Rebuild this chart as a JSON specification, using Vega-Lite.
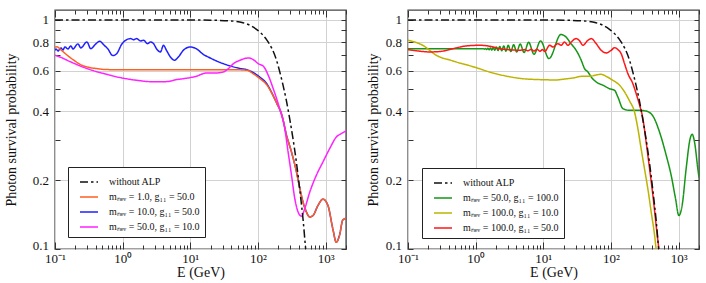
{
  "$schema": "https://vega.github.io/schema/vega-lite/v6.json",
  "padding": {"left": 3, "top": 8, "right": 9, "bottom": 5},
  "spacing": 17,
  "config": {
    "font": "Liberation Serif",
    "view": {"stroke": "#444", "strokeWidth": 1.4},
    "axis": {"labelFont": "Liberation Serif", "titleFont": "Liberation Serif", "labelFontSize": 13, "titleFontSize": 14, "titleFontWeight": "normal", "labelColor": "#111", "titleColor": "#111", "tickColor": "#333", "tickWidth": 1, "gridColor": "#d2d2d2", "gridWidth": 1, "domain": false},
    "legend": {"labelFont": "Liberation Serif", "labelFontSize": 10, "labelColor": "#111", "strokeColor": "#222", "fillColor": "#ffffff", "padding": 5, "rowPadding": 0, "symbolOffset": 6, "labelOffset": 10, "symbolType": "stroke", "symbolSize": 324, "symbolStrokeWidth": 1.6, "labelLimit": 0, "orient": "none"}
  },
  "datasets": {
    "left": [
      {"s": "mₙₑᵥ = 10.0, g₁₁ = 50.0", "E": 0.1, "P": 0.737},
      {"s": "mₙₑᵥ = 10.0, g₁₁ = 50.0", "E": 0.1035, "P": 0.747},
      {"s": "mₙₑᵥ = 10.0, g₁₁ = 50.0", "E": 0.1107, "P": 0.732},
      {"s": "mₙₑᵥ = 10.0, g₁₁ = 50.0", "E": 0.1226, "P": 0.755},
      {"s": "mₙₑᵥ = 10.0, g₁₁ = 50.0", "E": 0.1312, "P": 0.74},
      {"s": "mₙₑᵥ = 10.0, g₁₁ = 50.0", "E": 0.1403, "P": 0.762},
      {"s": "mₙₑᵥ = 10.0, g₁₁ = 50.0", "E": 0.1553, "P": 0.747},
      {"s": "mₙₑᵥ = 10.0, g₁₁ = 50.0", "E": 0.1718, "P": 0.77},
      {"s": "mₙₑᵥ = 10.0, g₁₁ = 50.0", "E": 0.184, "P": 0.747},
      {"s": "mₙₑᵥ = 10.0, g₁₁ = 50.0", "E": 0.218, "P": 0.786},
      {"s": "mₙₑᵥ = 10.0, g₁₁ = 50.0", "E": 0.241, "P": 0.755},
      {"s": "mₙₑᵥ = 10.0, g₁₁ = 50.0", "E": 0.296, "P": 0.801},
      {"s": "mₙₑᵥ = 10.0, g₁₁ = 50.0", "E": 0.338, "P": 0.749},
      {"s": "mₙₑᵥ = 10.0, g₁₁ = 50.0", "E": 0.401, "P": 0.786},
      {"s": "mₙₑᵥ = 10.0, g₁₁ = 50.0", "E": 0.459, "P": 0.807},
      {"s": "mₙₑᵥ = 10.0, g₁₁ = 50.0", "E": 0.526, "P": 0.778},
      {"s": "mₙₑᵥ = 10.0, g₁₁ = 50.0", "E": 0.601, "P": 0.749},
      {"s": "mₙₑᵥ = 10.0, g₁₁ = 50.0", "E": 0.713, "P": 0.699},
      {"s": "mₙₑᵥ = 10.0, g₁₁ = 50.0", "E": 0.816, "P": 0.712},
      {"s": "mₙₑᵥ = 10.0, g₁₁ = 50.0", "E": 0.967, "P": 0.783},
      {"s": "mₙₑᵥ = 10.0, g₁₁ = 50.0", "E": 1.107, "P": 0.815},
      {"s": "mₙₑᵥ = 10.0, g₁₁ = 50.0", "E": 1.311, "P": 0.829},
      {"s": "mₙₑᵥ = 10.0, g₁₁ = 50.0", "E": 1.45, "P": 0.82},
      {"s": "mₙₑᵥ = 10.0, g₁₁ = 50.0", "E": 1.61, "P": 0.829},
      {"s": "mₙₑᵥ = 10.0, g₁₁ = 50.0", "E": 1.84, "P": 0.81},
      {"s": "mₙₑᵥ = 10.0, g₁₁ = 50.0", "E": 2.04, "P": 0.815},
      {"s": "mₙₑᵥ = 10.0, g₁₁ = 50.0", "E": 2.33, "P": 0.788},
      {"s": "mₙₑᵥ = 10.0, g₁₁ = 50.0", "E": 2.58, "P": 0.801},
      {"s": "mₙₑᵥ = 10.0, g₁₁ = 50.0", "E": 2.86, "P": 0.788},
      {"s": "mₙₑᵥ = 10.0, g₁₁ = 50.0", "E": 3.16, "P": 0.749},
      {"s": "mₙₑᵥ = 10.0, g₁₁ = 50.0", "E": 3.62, "P": 0.725},
      {"s": "mₙₑᵥ = 10.0, g₁₁ = 50.0", "E": 4.01, "P": 0.775},
      {"s": "mₙₑᵥ = 10.0, g₁₁ = 50.0", "E": 4.44, "P": 0.737},
      {"s": "mₙₑᵥ = 10.0, g₁₁ = 50.0", "E": 5.08, "P": 0.689},
      {"s": "mₙₑᵥ = 10.0, g₁₁ = 50.0", "E": 5.82, "P": 0.667},
      {"s": "mₙₑᵥ = 10.0, g₁₁ = 50.0", "E": 6.66, "P": 0.689},
      {"s": "mₙₑᵥ = 10.0, g₁₁ = 50.0", "E": 7.89, "P": 0.737},
      {"s": "mₙₑᵥ = 10.0, g₁₁ = 50.0", "E": 10.0, "P": 0.762},
      {"s": "mₙₑᵥ = 10.0, g₁₁ = 50.0", "E": 12.25, "P": 0.749},
      {"s": "mₙₑᵥ = 10.0, g₁₁ = 50.0", "E": 15.5, "P": 0.708},
      {"s": "mₙₑᵥ = 10.0, g₁₁ = 50.0", "E": 19.7, "P": 0.682},
      {"s": "mₙₑᵥ = 10.0, g₁₁ = 50.0", "E": 27.6, "P": 0.652},
      {"s": "mₙₑᵥ = 10.0, g₁₁ = 50.0", "E": 38.7, "P": 0.63},
      {"s": "mₙₑᵥ = 10.0, g₁₁ = 50.0", "E": 54.3, "P": 0.614},
      {"s": "mₙₑᵥ = 10.0, g₁₁ = 50.0", "E": 68.9, "P": 0.606},
      {"s": "mₙₑᵥ = 10.0, g₁₁ = 50.0", "E": 84.3, "P": 0.59},
      {"s": "mₙₑᵥ = 10.0, g₁₁ = 50.0", "E": 107, "P": 0.562},
      {"s": "mₙₑᵥ = 10.0, g₁₁ = 50.0", "E": 136, "P": 0.525},
      {"s": "mₙₑᵥ = 10.0, g₁₁ = 50.0", "E": 161, "P": 0.479},
      {"s": "mₙₑᵥ = 10.0, g₁₁ = 50.0", "E": 190, "P": 0.432},
      {"s": "mₙₑᵥ = 10.0, g₁₁ = 50.0", "E": 225, "P": 0.385},
      {"s": "mₙₑᵥ = 10.0, g₁₁ = 50.0", "E": 264, "P": 0.314},
      {"s": "mₙₑᵥ = 10.0, g₁₁ = 50.0", "E": 313, "P": 0.265},
      {"s": "mₙₑᵥ = 10.0, g₁₁ = 50.0", "E": 371, "P": 0.217},
      {"s": "mₙₑᵥ = 10.0, g₁₁ = 50.0", "E": 415, "P": 0.184},
      {"s": "mₙₑᵥ = 10.0, g₁₁ = 50.0", "E": 464, "P": 0.16},
      {"s": "mₙₑᵥ = 10.0, g₁₁ = 50.0", "E": 520, "P": 0.145},
      {"s": "mₙₑᵥ = 10.0, g₁₁ = 50.0", "E": 582, "P": 0.138},
      {"s": "mₙₑᵥ = 10.0, g₁₁ = 50.0", "E": 651, "P": 0.14},
      {"s": "mₙₑᵥ = 10.0, g₁₁ = 50.0", "E": 771, "P": 0.155},
      {"s": "mₙₑᵥ = 10.0, g₁₁ = 50.0", "E": 913, "P": 0.165},
      {"s": "mₙₑᵥ = 10.0, g₁₁ = 50.0", "E": 1081, "P": 0.155},
      {"s": "mₙₑᵥ = 10.0, g₁₁ = 50.0", "E": 1281, "P": 0.122},
      {"s": "mₙₑᵥ = 10.0, g₁₁ = 50.0", "E": 1436, "P": 0.107},
      {"s": "mₙₑᵥ = 10.0, g₁₁ = 50.0", "E": 1607, "P": 0.115},
      {"s": "mₙₑᵥ = 10.0, g₁₁ = 50.0", "E": 1795, "P": 0.134},
      {"s": "mₙₑᵥ = 10.0, g₁₁ = 50.0", "E": 2000, "P": 0.136},
      {"s": "mₙₑᵥ = 1.0, g₁₁ = 50.0", "E": 0.1, "P": 0.762},
      {"s": "mₙₑᵥ = 1.0, g₁₁ = 50.0", "E": 0.107, "P": 0.763},
      {"s": "mₙₑᵥ = 1.0, g₁₁ = 50.0", "E": 0.121, "P": 0.742},
      {"s": "mₙₑᵥ = 1.0, g₁₁ = 50.0", "E": 0.152, "P": 0.701},
      {"s": "mₙₑᵥ = 1.0, g₁₁ = 50.0", "E": 0.19, "P": 0.667},
      {"s": "mₙₑᵥ = 1.0, g₁₁ = 50.0", "E": 0.239, "P": 0.638},
      {"s": "mₙₑᵥ = 1.0, g₁₁ = 50.0", "E": 0.299, "P": 0.623},
      {"s": "mₙₑᵥ = 1.0, g₁₁ = 50.0", "E": 0.419, "P": 0.613},
      {"s": "mₙₑᵥ = 1.0, g₁₁ = 50.0", "E": 0.588, "P": 0.607},
      {"s": "mₙₑᵥ = 1.0, g₁₁ = 50.0", "E": 1.31, "P": 0.606},
      {"s": "mₙₑᵥ = 1.0, g₁₁ = 50.0", "E": 14, "P": 0.606},
      {"s": "mₙₑᵥ = 1.0, g₁₁ = 50.0", "E": 45, "P": 0.606},
      {"s": "mₙₑᵥ = 1.0, g₁₁ = 50.0", "E": 68.9, "P": 0.603},
      {"s": "mₙₑᵥ = 1.0, g₁₁ = 50.0", "E": 84.3, "P": 0.583},
      {"s": "mₙₑᵥ = 1.0, g₁₁ = 50.0", "E": 107, "P": 0.554},
      {"s": "mₙₑᵥ = 1.0, g₁₁ = 50.0", "E": 136, "P": 0.519},
      {"s": "mₙₑᵥ = 1.0, g₁₁ = 50.0", "E": 161, "P": 0.477},
      {"s": "mₙₑᵥ = 1.0, g₁₁ = 50.0", "E": 190, "P": 0.432},
      {"s": "mₙₑᵥ = 1.0, g₁₁ = 50.0", "E": 225, "P": 0.385},
      {"s": "mₙₑᵥ = 1.0, g₁₁ = 50.0", "E": 264, "P": 0.314},
      {"s": "mₙₑᵥ = 1.0, g₁₁ = 50.0", "E": 313, "P": 0.265},
      {"s": "mₙₑᵥ = 1.0, g₁₁ = 50.0", "E": 371, "P": 0.217},
      {"s": "mₙₑᵥ = 1.0, g₁₁ = 50.0", "E": 415, "P": 0.184},
      {"s": "mₙₑᵥ = 1.0, g₁₁ = 50.0", "E": 464, "P": 0.16},
      {"s": "mₙₑᵥ = 1.0, g₁₁ = 50.0", "E": 520, "P": 0.145},
      {"s": "mₙₑᵥ = 1.0, g₁₁ = 50.0", "E": 582, "P": 0.138},
      {"s": "mₙₑᵥ = 1.0, g₁₁ = 50.0", "E": 651, "P": 0.14},
      {"s": "mₙₑᵥ = 1.0, g₁₁ = 50.0", "E": 771, "P": 0.155},
      {"s": "mₙₑᵥ = 1.0, g₁₁ = 50.0", "E": 913, "P": 0.165},
      {"s": "mₙₑᵥ = 1.0, g₁₁ = 50.0", "E": 1081, "P": 0.155},
      {"s": "mₙₑᵥ = 1.0, g₁₁ = 50.0", "E": 1281, "P": 0.122},
      {"s": "mₙₑᵥ = 1.0, g₁₁ = 50.0", "E": 1436, "P": 0.107},
      {"s": "mₙₑᵥ = 1.0, g₁₁ = 50.0", "E": 1607, "P": 0.115},
      {"s": "mₙₑᵥ = 1.0, g₁₁ = 50.0", "E": 1795, "P": 0.134},
      {"s": "mₙₑᵥ = 1.0, g₁₁ = 50.0", "E": 2000, "P": 0.136},
      {"s": "mₙₑᵥ = 50.0, g₁₁ = 10.0", "E": 0.1, "P": 0.701},
      {"s": "mₙₑᵥ = 50.0, g₁₁ = 10.0", "E": 0.1226, "P": 0.686},
      {"s": "mₙₑᵥ = 50.0, g₁₁ = 10.0", "E": 0.17, "P": 0.656},
      {"s": "mₙₑᵥ = 50.0, g₁₁ = 10.0", "E": 0.299, "P": 0.613},
      {"s": "mₙₑᵥ = 50.0, g₁₁ = 10.0", "E": 0.526, "P": 0.583},
      {"s": "mₙₑᵥ = 50.0, g₁₁ = 10.0", "E": 0.925, "P": 0.56},
      {"s": "mₙₑᵥ = 50.0, g₁₁ = 10.0", "E": 1.62, "P": 0.545},
      {"s": "mₙₑᵥ = 50.0, g₁₁ = 10.0", "E": 2.86, "P": 0.537},
      {"s": "mₙₑᵥ = 50.0, g₁₁ = 10.0", "E": 4.48, "P": 0.538},
      {"s": "mₙₑᵥ = 50.0, g₁₁ = 10.0", "E": 6.29, "P": 0.549},
      {"s": "mₙₑᵥ = 50.0, g₁₁ = 10.0", "E": 7.89, "P": 0.554},
      {"s": "mₙₑᵥ = 50.0, g₁₁ = 10.0", "E": 9.9, "P": 0.56},
      {"s": "mₙₑᵥ = 50.0, g₁₁ = 10.0", "E": 12.4, "P": 0.568},
      {"s": "mₙₑᵥ = 50.0, g₁₁ = 10.0", "E": 15.5, "P": 0.583},
      {"s": "mₙₑᵥ = 50.0, g₁₁ = 10.0", "E": 17.6, "P": 0.587},
      {"s": "mₙₑᵥ = 50.0, g₁₁ = 10.0", "E": 24.7, "P": 0.587},
      {"s": "mₙₑᵥ = 50.0, g₁₁ = 10.0", "E": 30.9, "P": 0.593},
      {"s": "mₙₑᵥ = 50.0, g₁₁ = 10.0", "E": 36.6, "P": 0.613},
      {"s": "mₙₑᵥ = 50.0, g₁₁ = 10.0", "E": 43.4, "P": 0.644},
      {"s": "mₙₑᵥ = 50.0, g₁₁ = 10.0", "E": 54.3, "P": 0.667},
      {"s": "mₙₑᵥ = 50.0, g₁₁ = 10.0", "E": 72, "P": 0.682},
      {"s": "mₙₑᵥ = 50.0, g₁₁ = 10.0", "E": 85.3, "P": 0.671},
      {"s": "mₙₑᵥ = 50.0, g₁₁ = 10.0", "E": 101, "P": 0.644},
      {"s": "mₙₑᵥ = 50.0, g₁₁ = 10.0", "E": 120, "P": 0.628},
      {"s": "mₙₑᵥ = 50.0, g₁₁ = 10.0", "E": 142, "P": 0.573},
      {"s": "mₙₑᵥ = 50.0, g₁₁ = 10.0", "E": 168, "P": 0.501},
      {"s": "mₙₑᵥ = 50.0, g₁₁ = 10.0", "E": 199, "P": 0.431},
      {"s": "mₙₑᵥ = 50.0, g₁₁ = 10.0", "E": 223, "P": 0.384},
      {"s": "mₙₑᵥ = 50.0, g₁₁ = 10.0", "E": 244, "P": 0.347},
      {"s": "mₙₑᵥ = 50.0, g₁₁ = 10.0", "E": 279, "P": 0.265},
      {"s": "mₙₑᵥ = 50.0, g₁₁ = 10.0", "E": 313, "P": 0.21},
      {"s": "mₙₑᵥ = 50.0, g₁₁ = 10.0", "E": 350, "P": 0.166},
      {"s": "mₙₑᵥ = 50.0, g₁₁ = 10.0", "E": 392, "P": 0.145},
      {"s": "mₙₑᵥ = 50.0, g₁₁ = 10.0", "E": 440, "P": 0.139},
      {"s": "mₙₑᵥ = 50.0, g₁₁ = 10.0", "E": 491, "P": 0.15},
      {"s": "mₙₑᵥ = 50.0, g₁₁ = 10.0", "E": 582, "P": 0.177},
      {"s": "mₙₑᵥ = 50.0, g₁₁ = 10.0", "E": 730, "P": 0.21},
      {"s": "mₙₑᵥ = 50.0, g₁₁ = 10.0", "E": 913, "P": 0.24},
      {"s": "mₙₑᵥ = 50.0, g₁₁ = 10.0", "E": 1145, "P": 0.274},
      {"s": "mₙₑᵥ = 50.0, g₁₁ = 10.0", "E": 1436, "P": 0.308},
      {"s": "mₙₑᵥ = 50.0, g₁₁ = 10.0", "E": 1702, "P": 0.319},
      {"s": "mₙₑᵥ = 50.0, g₁₁ = 10.0", "E": 2000, "P": 0.327},
      {"s": "without ALP", "E": 0.1, "P": 1.0},
      {"s": "without ALP", "E": 1, "P": 1.0},
      {"s": "without ALP", "E": 10, "P": 0.999},
      {"s": "without ALP", "E": 20, "P": 0.997},
      {"s": "without ALP", "E": 40, "P": 0.99},
      {"s": "without ALP", "E": 60, "P": 0.972},
      {"s": "without ALP", "E": 76, "P": 0.948},
      {"s": "without ALP", "E": 95, "P": 0.91},
      {"s": "without ALP", "E": 107, "P": 0.885},
      {"s": "without ALP", "E": 134, "P": 0.82},
      {"s": "without ALP", "E": 159, "P": 0.755},
      {"s": "without ALP", "E": 188, "P": 0.667},
      {"s": "without ALP", "E": 210, "P": 0.593},
      {"s": "without ALP", "E": 235, "P": 0.518},
      {"s": "without ALP", "E": 263, "P": 0.444},
      {"s": "without ALP", "E": 295, "P": 0.369},
      {"s": "without ALP", "E": 331, "P": 0.3},
      {"s": "without ALP", "E": 372, "P": 0.236},
      {"s": "without ALP", "E": 417, "P": 0.179},
      {"s": "without ALP", "E": 468, "P": 0.131},
      {"s": "without ALP", "E": 507, "P": 0.1},
      {"s": "without ALP", "E": 540, "P": 0.085}
    ],
    "right": [
      {"s": "mₙₑᵥ = 50.0, g₁₁ = 100.0", "E": 0.1, "P": 0.749},
      {"s": "mₙₑᵥ = 50.0, g₁₁ = 100.0", "E": 0.329, "P": 0.749},
      {"s": "mₙₑᵥ = 50.0, g₁₁ = 100.0", "E": 0.912, "P": 0.748},
      {"s": "mₙₑᵥ = 50.0, g₁₁ = 100.0", "E": 1.3, "P": 0.749},
      {"s": "mₙₑᵥ = 50.0, g₁₁ = 100.0", "E": 1.348, "P": 0.745},
      {"s": "mₙₑᵥ = 50.0, g₁₁ = 100.0", "E": 1.4, "P": 0.75},
      {"s": "mₙₑᵥ = 50.0, g₁₁ = 100.0", "E": 1.456, "P": 0.743},
      {"s": "mₙₑᵥ = 50.0, g₁₁ = 100.0", "E": 1.517, "P": 0.752},
      {"s": "mₙₑᵥ = 50.0, g₁₁ = 100.0", "E": 1.583, "P": 0.741},
      {"s": "mₙₑᵥ = 50.0, g₁₁ = 100.0", "E": 1.655, "P": 0.755},
      {"s": "mₙₑᵥ = 50.0, g₁₁ = 100.0", "E": 1.733, "P": 0.739},
      {"s": "mₙₑᵥ = 50.0, g₁₁ = 100.0", "E": 1.82, "P": 0.758},
      {"s": "mₙₑᵥ = 50.0, g₁₁ = 100.0", "E": 1.916, "P": 0.737},
      {"s": "mₙₑᵥ = 50.0, g₁₁ = 100.0", "E": 2.02, "P": 0.762},
      {"s": "mₙₑᵥ = 50.0, g₁₁ = 100.0", "E": 2.14, "P": 0.735},
      {"s": "mₙₑᵥ = 50.0, g₁₁ = 100.0", "E": 2.275, "P": 0.766},
      {"s": "mₙₑᵥ = 50.0, g₁₁ = 100.0", "E": 2.43, "P": 0.733},
      {"s": "mₙₑᵥ = 50.0, g₁₁ = 100.0", "E": 2.6, "P": 0.77},
      {"s": "mₙₑᵥ = 50.0, g₁₁ = 100.0", "E": 2.8, "P": 0.73},
      {"s": "mₙₑᵥ = 50.0, g₁₁ = 100.0", "E": 3.03, "P": 0.775},
      {"s": "mₙₑᵥ = 50.0, g₁₁ = 100.0", "E": 3.31, "P": 0.728},
      {"s": "mₙₑᵥ = 50.0, g₁₁ = 100.0", "E": 3.64, "P": 0.78},
      {"s": "mₙₑᵥ = 50.0, g₁₁ = 100.0", "E": 4.04, "P": 0.725},
      {"s": "mₙₑᵥ = 50.0, g₁₁ = 100.0", "E": 4.55, "P": 0.785},
      {"s": "mₙₑᵥ = 50.0, g₁₁ = 100.0", "E": 5.2, "P": 0.721},
      {"s": "mₙₑᵥ = 50.0, g₁₁ = 100.0", "E": 6.07, "P": 0.799},
      {"s": "mₙₑᵥ = 50.0, g₁₁ = 100.0", "E": 7.28, "P": 0.708},
      {"s": "mₙₑᵥ = 50.0, g₁₁ = 100.0", "E": 9.1, "P": 0.81},
      {"s": "mₙₑᵥ = 50.0, g₁₁ = 100.0", "E": 12.13, "P": 0.678},
      {"s": "mₙₑᵥ = 50.0, g₁₁ = 100.0", "E": 18.2, "P": 0.864},
      {"s": "mₙₑᵥ = 50.0, g₁₁ = 100.0", "E": 21.6, "P": 0.843},
      {"s": "mₙₑᵥ = 50.0, g₁₁ = 100.0", "E": 25.6, "P": 0.788},
      {"s": "mₙₑᵥ = 50.0, g₁₁ = 100.0", "E": 30.6, "P": 0.737},
      {"s": "mₙₑᵥ = 50.0, g₁₁ = 100.0", "E": 36.3, "P": 0.667},
      {"s": "mₙₑᵥ = 50.0, g₁₁ = 100.0", "E": 40.7, "P": 0.613},
      {"s": "mₙₑᵥ = 50.0, g₁₁ = 100.0", "E": 45.6, "P": 0.593},
      {"s": "mₙₑᵥ = 50.0, g₁₁ = 100.0", "E": 51.0, "P": 0.564},
      {"s": "mₙₑᵥ = 50.0, g₁₁ = 100.0", "E": 60.4, "P": 0.536},
      {"s": "mₙₑᵥ = 50.0, g₁₁ = 100.0", "E": 75.9, "P": 0.519},
      {"s": "mₙₑᵥ = 50.0, g₁₁ = 100.0", "E": 95.3, "P": 0.501},
      {"s": "mₙₑᵥ = 50.0, g₁₁ = 100.0", "E": 113, "P": 0.493},
      {"s": "mₙₑᵥ = 50.0, g₁₁ = 100.0", "E": 126.4, "P": 0.461},
      {"s": "mₙₑᵥ = 50.0, g₁₁ = 100.0", "E": 150, "P": 0.41},
      {"s": "mₙₑᵥ = 50.0, g₁₁ = 100.0", "E": 188, "P": 0.403},
      {"s": "mₙₑᵥ = 50.0, g₁₁ = 100.0", "E": 264, "P": 0.403},
      {"s": "mₙₑᵥ = 50.0, g₁₁ = 100.0", "E": 331, "P": 0.4},
      {"s": "mₙₑᵥ = 50.0, g₁₁ = 100.0", "E": 416, "P": 0.381},
      {"s": "mₙₑᵥ = 50.0, g₁₁ = 100.0", "E": 522, "P": 0.324},
      {"s": "mₙₑᵥ = 50.0, g₁₁ = 100.0", "E": 654, "P": 0.257},
      {"s": "mₙₑᵥ = 50.0, g₁₁ = 100.0", "E": 775, "P": 0.21},
      {"s": "mₙₑᵥ = 50.0, g₁₁ = 100.0", "E": 900, "P": 0.166},
      {"s": "mₙₑᵥ = 50.0, g₁₁ = 100.0", "E": 1007, "P": 0.14},
      {"s": "mₙₑᵥ = 50.0, g₁₁ = 100.0", "E": 1127, "P": 0.155},
      {"s": "mₙₑᵥ = 50.0, g₁₁ = 100.0", "E": 1291, "P": 0.224},
      {"s": "mₙₑᵥ = 50.0, g₁₁ = 100.0", "E": 1479, "P": 0.303},
      {"s": "mₙₑᵥ = 50.0, g₁₁ = 100.0", "E": 1584, "P": 0.317},
      {"s": "mₙₑᵥ = 50.0, g₁₁ = 100.0", "E": 1718, "P": 0.293},
      {"s": "mₙₑᵥ = 50.0, g₁₁ = 100.0", "E": 1922, "P": 0.224},
      {"s": "mₙₑᵥ = 50.0, g₁₁ = 100.0", "E": 2000, "P": 0.205},
      {"s": "mₙₑᵥ = 100.0, g₁₁ = 10.0", "E": 0.1, "P": 0.815},
      {"s": "mₙₑᵥ = 100.0, g₁₁ = 10.0", "E": 0.165, "P": 0.775},
      {"s": "mₙₑᵥ = 100.0, g₁₁ = 10.0", "E": 0.262, "P": 0.701},
      {"s": "mₙₑᵥ = 100.0, g₁₁ = 10.0", "E": 0.462, "P": 0.662},
      {"s": "mₙₑᵥ = 100.0, g₁₁ = 10.0", "E": 1.0, "P": 0.62},
      {"s": "mₙₑᵥ = 100.0, g₁₁ = 10.0", "E": 1.59, "P": 0.593},
      {"s": "mₙₑᵥ = 100.0, g₁₁ = 10.0", "E": 2.8, "P": 0.569},
      {"s": "mₙₑᵥ = 100.0, g₁₁ = 10.0", "E": 4.94, "P": 0.554},
      {"s": "mₙₑᵥ = 100.0, g₁₁ = 10.0", "E": 8.7, "P": 0.549},
      {"s": "mₙₑᵥ = 100.0, g₁₁ = 10.0", "E": 15.4, "P": 0.547},
      {"s": "mₙₑᵥ = 100.0, g₁₁ = 10.0", "E": 19.5, "P": 0.551},
      {"s": "mₙₑᵥ = 100.0, g₁₁ = 10.0", "E": 27.4, "P": 0.558},
      {"s": "mₙₑᵥ = 100.0, g₁₁ = 10.0", "E": 38.5, "P": 0.568},
      {"s": "mₙₑᵥ = 100.0, g₁₁ = 10.0", "E": 48.3, "P": 0.568},
      {"s": "mₙₑᵥ = 100.0, g₁₁ = 10.0", "E": 60.4, "P": 0.575},
      {"s": "mₙₑᵥ = 100.0, g₁₁ = 10.0", "E": 71.6, "P": 0.579},
      {"s": "mₙₑᵥ = 100.0, g₁₁ = 10.0", "E": 84.9, "P": 0.567},
      {"s": "mₙₑᵥ = 100.0, g₁₁ = 10.0", "E": 106.7, "P": 0.545},
      {"s": "mₙₑᵥ = 100.0, g₁₁ = 10.0", "E": 134, "P": 0.519},
      {"s": "mₙₑᵥ = 100.0, g₁₁ = 10.0", "E": 158.8, "P": 0.485},
      {"s": "mₙₑᵥ = 100.0, g₁₁ = 10.0", "E": 188, "P": 0.443},
      {"s": "mₙₑᵥ = 100.0, g₁₁ = 10.0", "E": 223, "P": 0.396},
      {"s": "mₙₑᵥ = 100.0, g₁₁ = 10.0", "E": 250, "P": 0.335},
      {"s": "mₙₑᵥ = 100.0, g₁₁ = 10.0", "E": 279, "P": 0.274},
      {"s": "mₙₑᵥ = 100.0, g₁₁ = 10.0", "E": 313, "P": 0.224},
      {"s": "mₙₑᵥ = 100.0, g₁₁ = 10.0", "E": 351, "P": 0.183},
      {"s": "mₙₑᵥ = 100.0, g₁₁ = 10.0", "E": 393, "P": 0.145},
      {"s": "mₙₑᵥ = 100.0, g₁₁ = 10.0", "E": 441, "P": 0.115},
      {"s": "mₙₑᵥ = 100.0, g₁₁ = 10.0", "E": 465, "P": 0.1},
      {"s": "mₙₑᵥ = 100.0, g₁₁ = 10.0", "E": 490, "P": 0.09},
      {"s": "mₙₑᵥ = 100.0, g₁₁ = 50.0", "E": 0.1, "P": 0.742},
      {"s": "mₙₑᵥ = 100.0, g₁₁ = 50.0", "E": 0.1406, "P": 0.732},
      {"s": "mₙₑᵥ = 100.0, g₁₁ = 50.0", "E": 0.209, "P": 0.725},
      {"s": "mₙₑᵥ = 100.0, g₁₁ = 50.0", "E": 0.307, "P": 0.729},
      {"s": "mₙₑᵥ = 100.0, g₁₁ = 50.0", "E": 0.462, "P": 0.749},
      {"s": "mₙₑᵥ = 100.0, g₁₁ = 50.0", "E": 0.719, "P": 0.77},
      {"s": "mₙₑᵥ = 100.0, g₁₁ = 50.0", "E": 1.146, "P": 0.775},
      {"s": "mₙₑᵥ = 100.0, g₁₁ = 50.0", "E": 1.68, "P": 0.766},
      {"s": "mₙₑᵥ = 100.0, g₁₁ = 50.0", "E": 2.26, "P": 0.749},
      {"s": "mₙₑᵥ = 100.0, g₁₁ = 50.0", "E": 3.21, "P": 0.741},
      {"s": "mₙₑᵥ = 100.0, g₁₁ = 50.0", "E": 4.47, "P": 0.737},
      {"s": "mₙₑᵥ = 100.0, g₁₁ = 50.0", "E": 5.3, "P": 0.742},
      {"s": "mₙₑᵥ = 100.0, g₁₁ = 50.0", "E": 5.9, "P": 0.733},
      {"s": "mₙₑᵥ = 100.0, g₁₁ = 50.0", "E": 6.6, "P": 0.744},
      {"s": "mₙₑᵥ = 100.0, g₁₁ = 50.0", "E": 7.3, "P": 0.732},
      {"s": "mₙₑᵥ = 100.0, g₁₁ = 50.0", "E": 8.1, "P": 0.744},
      {"s": "mₙₑᵥ = 100.0, g₁₁ = 50.0", "E": 8.9, "P": 0.73},
      {"s": "mₙₑᵥ = 100.0, g₁₁ = 50.0", "E": 9.7, "P": 0.742},
      {"s": "mₙₑᵥ = 100.0, g₁₁ = 50.0", "E": 10.5, "P": 0.728},
      {"s": "mₙₑᵥ = 100.0, g₁₁ = 50.0", "E": 12.4, "P": 0.775},
      {"s": "mₙₑᵥ = 100.0, g₁₁ = 50.0", "E": 13.9, "P": 0.762},
      {"s": "mₙₑᵥ = 100.0, g₁₁ = 50.0", "E": 16.4, "P": 0.788},
      {"s": "mₙₑᵥ = 100.0, g₁₁ = 50.0", "E": 18.4, "P": 0.775},
      {"s": "mₙₑᵥ = 100.0, g₁₁ = 50.0", "E": 20.6, "P": 0.801},
      {"s": "mₙₑᵥ = 100.0, g₁₁ = 50.0", "E": 23.1, "P": 0.775},
      {"s": "mₙₑᵥ = 100.0, g₁₁ = 50.0", "E": 25.8, "P": 0.801},
      {"s": "mₙₑᵥ = 100.0, g₁₁ = 50.0", "E": 30.6, "P": 0.829},
      {"s": "mₙₑᵥ = 100.0, g₁₁ = 50.0", "E": 34.4, "P": 0.81},
      {"s": "mₙₑᵥ = 100.0, g₁₁ = 50.0", "E": 38.5, "P": 0.775},
      {"s": "mₙₑᵥ = 100.0, g₁₁ = 50.0", "E": 45.6, "P": 0.815},
      {"s": "mₙₑᵥ = 100.0, g₁₁ = 50.0", "E": 51.0, "P": 0.829},
      {"s": "mₙₑᵥ = 100.0, g₁₁ = 50.0", "E": 60.4, "P": 0.788},
      {"s": "mₙₑᵥ = 100.0, g₁₁ = 50.0", "E": 71.6, "P": 0.737},
      {"s": "mₙₑᵥ = 100.0, g₁₁ = 50.0", "E": 84.9, "P": 0.718},
      {"s": "mₙₑᵥ = 100.0, g₁₁ = 50.0", "E": 100.7, "P": 0.737},
      {"s": "mₙₑᵥ = 100.0, g₁₁ = 50.0", "E": 113, "P": 0.757},
      {"s": "mₙₑᵥ = 100.0, g₁₁ = 50.0", "E": 126.4, "P": 0.742},
      {"s": "mₙₑᵥ = 100.0, g₁₁ = 50.0", "E": 141.6, "P": 0.712},
      {"s": "mₙₑᵥ = 100.0, g₁₁ = 50.0", "E": 158.8, "P": 0.644},
      {"s": "mₙₑᵥ = 100.0, g₁₁ = 50.0", "E": 177.8, "P": 0.583},
      {"s": "mₙₑᵥ = 100.0, g₁₁ = 50.0", "E": 210.6, "P": 0.527},
      {"s": "mₙₑᵥ = 100.0, g₁₁ = 50.0", "E": 235.6, "P": 0.477},
      {"s": "mₙₑᵥ = 100.0, g₁₁ = 50.0", "E": 261, "P": 0.431},
      {"s": "mₙₑᵥ = 100.0, g₁₁ = 50.0", "E": 296, "P": 0.371},
      {"s": "mₙₑᵥ = 100.0, g₁₁ = 50.0", "E": 331, "P": 0.293},
      {"s": "mₙₑᵥ = 100.0, g₁₁ = 50.0", "E": 372, "P": 0.224},
      {"s": "mₙₑᵥ = 100.0, g₁₁ = 50.0", "E": 416, "P": 0.172},
      {"s": "mₙₑᵥ = 100.0, g₁₁ = 50.0", "E": 465, "P": 0.127},
      {"s": "mₙₑᵥ = 100.0, g₁₁ = 50.0", "E": 510, "P": 0.1},
      {"s": "mₙₑᵥ = 100.0, g₁₁ = 50.0", "E": 540, "P": 0.085},
      {"s": "without ALP", "E": 0.1, "P": 1.0},
      {"s": "without ALP", "E": 1, "P": 1.0},
      {"s": "without ALP", "E": 10, "P": 0.999},
      {"s": "without ALP", "E": 20, "P": 0.997},
      {"s": "without ALP", "E": 40, "P": 0.99},
      {"s": "without ALP", "E": 60, "P": 0.972},
      {"s": "without ALP", "E": 76, "P": 0.948},
      {"s": "without ALP", "E": 95, "P": 0.91},
      {"s": "without ALP", "E": 107, "P": 0.885},
      {"s": "without ALP", "E": 134, "P": 0.82},
      {"s": "without ALP", "E": 159, "P": 0.755},
      {"s": "without ALP", "E": 188, "P": 0.667},
      {"s": "without ALP", "E": 210, "P": 0.593},
      {"s": "without ALP", "E": 235, "P": 0.518},
      {"s": "without ALP", "E": 263, "P": 0.444},
      {"s": "without ALP", "E": 295, "P": 0.369},
      {"s": "without ALP", "E": 331, "P": 0.3},
      {"s": "without ALP", "E": 372, "P": 0.236},
      {"s": "without ALP", "E": 417, "P": 0.179},
      {"s": "without ALP", "E": 468, "P": 0.131},
      {"s": "without ALP", "E": 507, "P": 0.1},
      {"s": "without ALP", "E": 540, "P": 0.085}
    ]
  },
  "hconcat": [
    {
      "width": 291,
      "height": 239,
      "data": {"name": "left"},
      "layer": [
        {
          "transform": [{"filter": "datum.s !== 'without ALP'"}],
          "mark": {"type": "line", "clip": true, "strokeWidth": 1.5, "interpolate": "monotone"},
          "encoding": {
            "x": {"field": "E", "type": "quantitative", "title": "E (GeV)",
              "scale": {"type": "log", "domain": [0.1, 2000], "nice": false},
              "axis": {"orient": "bottom", "values": [0.1,0.2,0.3,0.4,0.5,0.6,0.7,0.8,0.9,1,2,3,4,5,6,7,8,9,10,20,30,40,50,60,70,80,90,100,200,300,400,500,600,700,800,900,1000,2000],
                "labelExpr": "abs(log(datum.value)/LN10 - round(log(datum.value)/LN10)) < 0.001 ? '10' + ['⁻¹','⁰','¹','²','³'][round(log(datum.value)/LN10) + 1] : ''",
                "labelFlush": false, "labelOverlap": false, "labelBound": false,
                "tickSize": {"condition": {"test": "abs(log(datum.value)/LN10 - round(log(datum.value)/LN10)) < 0.001", "value": -7}, "value": -4},
                "labelPadding": 10, "grid": true,
                "gridOpacity": {"condition": {"test": "abs(log(datum.value)/LN10 - round(log(datum.value)/LN10)) < 0.001", "value": 1}, "value": 0},
                "titleY": 27.5, "titleBaseline": "alphabetic"}},
            "y": {"field": "P", "type": "quantitative", "title": "Photon survival probability",
              "scale": {"type": "log", "domain": [0.1, 1.105], "nice": false},
              "axis": {"orient": "left", "values": [0.1,0.2,0.3,0.4,0.5,0.6,0.7,0.8,0.9,1],
                "labelExpr": "indexof([1,2,4,6,8,10], round(datum.value*10)) >= 0 ? (round(datum.value*10) == 10 ? '1' : format(datum.value, '.1f')) : ''",
                "labelOverlap": false, "labelFlush": false, "tickSize": -5, "labelPadding": 11.5, "grid": true,
                "labelOffset": {"condition": {"test": "datum.value < 0.15", "value": -4}, "value": 0},
                "gridOpacity": {"condition": {"test": "indexof([1,2,4,6,8,10], round(datum.value*10)) >= 0", "value": 1}, "value": 0},
                "titleX": -40, "titleBaseline": "alphabetic"}},
            "color": {"field": "s", "type": "nominal", "title": null,
              "scale": {"domain": ["without ALP", "mₙₑᵥ = 1.0, g₁₁ = 50.0", "mₙₑᵥ = 10.0, g₁₁ = 50.0", "mₙₑᵥ = 50.0, g₁₁ = 10.0"], "range": ["#111111", "#ff6020", "#2020ff", "#ff22ff"]},
              "legend": {"legendX": 13, "legendY": 157, "labelExpr": "datum.label + '    '"}},
            "strokeDash": {"field": "s", "type": "nominal", "title": null,
              "scale": {"domain": ["without ALP", "mₙₑᵥ = 1.0, g₁₁ = 50.0", "mₙₑᵥ = 10.0, g₁₁ = 50.0", "mₙₑᵥ = 50.0, g₁₁ = 10.0"], "range": [[8,3,2.5,3],[1,0],[1,0],[1,0]]},
              "legend": {"legendX": 13, "legendY": 157, "labelExpr": "datum.label + '    '"}}
          }
        },
        {
          "transform": [{"filter": "datum.s === 'without ALP'"}],
          "mark": {"type": "line", "clip": true, "strokeWidth": 1.5, "interpolate": "monotone"},
          "encoding": {
            "x": {"field": "E", "type": "quantitative",
              "scale": {"type": "log", "domain": [0.1, 2000], "nice": false},
              "axis": {"orient": "top", "title": null, "labels": false, "grid": false, "values": [0.1,0.2,0.3,0.4,0.5,0.6,0.7,0.8,0.9,1,2,3,4,5,6,7,8,9,10,20,30,40,50,60,70,80,90,100,200,300,400,500,600,700,800,900,1000,2000],
                "tickSize": {"condition": {"test": "abs(log(datum.value)/LN10 - round(log(datum.value)/LN10)) < 0.001", "value": -7}, "value": -4}}},
            "y": {"field": "P", "type": "quantitative",
              "scale": {"type": "log", "domain": [0.1, 1.105], "nice": false},
              "axis": {"orient": "right", "title": null, "labels": false, "grid": false, "values": [0.1,0.2,0.3,0.4,0.5,0.6,0.7,0.8,0.9,1], "tickSize": -5}},
            "color": {"field": "s", "type": "nominal", "title": null,
              "scale": {"domain": ["without ALP", "mₙₑᵥ = 1.0, g₁₁ = 50.0", "mₙₑᵥ = 10.0, g₁₁ = 50.0", "mₙₑᵥ = 50.0, g₁₁ = 10.0"], "range": ["#111111", "#ff6020", "#2020ff", "#ff22ff"]},
              "legend": {"legendX": 13, "legendY": 157, "labelExpr": "datum.label + '    '"}},
            "strokeDash": {"field": "s", "type": "nominal", "title": null,
              "scale": {"domain": ["without ALP", "mₙₑᵥ = 1.0, g₁₁ = 50.0", "mₙₑᵥ = 10.0, g₁₁ = 50.0", "mₙₑᵥ = 50.0, g₁₁ = 10.0"], "range": [[8,3,2.5,3],[1,0],[1,0],[1,0]]},
              "legend": {"legendX": 13, "legendY": 157, "labelExpr": "datum.label + '    '"}}
          }
        }
      ],
      "resolve": {"axis": {"x": "independent", "y": "independent"}}
    },
    {
      "width": 291,
      "height": 239,
      "data": {"name": "right"},
      "layer": [
        {
          "transform": [{"filter": "datum.s !== 'without ALP'"}],
          "mark": {"type": "line", "clip": true, "strokeWidth": 1.5, "interpolate": "monotone"},
          "encoding": {
            "x": {"field": "E", "type": "quantitative", "title": "E (GeV)",
              "scale": {"type": "log", "domain": [0.1, 2000], "nice": false},
              "axis": {"orient": "bottom", "values": [0.1,0.2,0.3,0.4,0.5,0.6,0.7,0.8,0.9,1,2,3,4,5,6,7,8,9,10,20,30,40,50,60,70,80,90,100,200,300,400,500,600,700,800,900,1000,2000],
                "labelExpr": "abs(log(datum.value)/LN10 - round(log(datum.value)/LN10)) < 0.001 ? '10' + ['⁻¹','⁰','¹','²','³'][round(log(datum.value)/LN10) + 1] : ''",
                "labelFlush": false, "labelOverlap": false, "labelBound": false,
                "tickSize": {"condition": {"test": "abs(log(datum.value)/LN10 - round(log(datum.value)/LN10)) < 0.001", "value": -7}, "value": -4},
                "labelPadding": 10, "grid": true,
                "gridOpacity": {"condition": {"test": "abs(log(datum.value)/LN10 - round(log(datum.value)/LN10)) < 0.001", "value": 1}, "value": 0},
                "titleY": 27.5, "titleBaseline": "alphabetic"}},
            "y": {"field": "P", "type": "quantitative", "title": "Photon survival probability",
              "scale": {"type": "log", "domain": [0.1, 1.105], "nice": false},
              "axis": {"orient": "left", "values": [0.1,0.2,0.3,0.4,0.5,0.6,0.7,0.8,0.9,1],
                "labelExpr": "indexof([1,2,4,6,8,10], round(datum.value*10)) >= 0 ? (round(datum.value*10) == 10 ? '1' : format(datum.value, '.1f')) : ''",
                "labelOverlap": false, "labelFlush": false, "tickSize": -5, "labelPadding": 11.5, "grid": true,
                "labelOffset": {"condition": {"test": "datum.value < 0.15", "value": -4}, "value": 0},
                "gridOpacity": {"condition": {"test": "indexof([1,2,4,6,8,10], round(datum.value*10)) >= 0", "value": 1}, "value": 0},
                "titleX": -31, "titleBaseline": "alphabetic"}},
            "color": {"field": "s", "type": "nominal", "title": null,
              "scale": {"domain": ["without ALP", "mₙₑᵥ = 50.0, g₁₁ = 100.0", "mₙₑᵥ = 100.0, g₁₁ = 10.0", "mₙₑᵥ = 100.0, g₁₁ = 50.0"], "range": ["#111111", "#169616", "#bdb400", "#ff1616"]},
              "legend": {"legendX": 14, "legendY": 158, "labelExpr": "datum.label + '    '"}},
            "strokeDash": {"field": "s", "type": "nominal", "title": null,
              "scale": {"domain": ["without ALP", "mₙₑᵥ = 50.0, g₁₁ = 100.0", "mₙₑᵥ = 100.0, g₁₁ = 10.0", "mₙₑᵥ = 100.0, g₁₁ = 50.0"], "range": [[8,3,2.5,3],[1,0],[1,0],[1,0]]},
              "legend": {"legendX": 14, "legendY": 158, "labelExpr": "datum.label + '    '"}}
          }
        },
        {
          "transform": [{"filter": "datum.s === 'without ALP'"}],
          "mark": {"type": "line", "clip": true, "strokeWidth": 1.5, "interpolate": "monotone"},
          "encoding": {
            "x": {"field": "E", "type": "quantitative",
              "scale": {"type": "log", "domain": [0.1, 2000], "nice": false},
              "axis": {"orient": "top", "title": null, "labels": false, "grid": false, "values": [0.1,0.2,0.3,0.4,0.5,0.6,0.7,0.8,0.9,1,2,3,4,5,6,7,8,9,10,20,30,40,50,60,70,80,90,100,200,300,400,500,600,700,800,900,1000,2000],
                "tickSize": {"condition": {"test": "abs(log(datum.value)/LN10 - round(log(datum.value)/LN10)) < 0.001", "value": -7}, "value": -4}}},
            "y": {"field": "P", "type": "quantitative",
              "scale": {"type": "log", "domain": [0.1, 1.105], "nice": false},
              "axis": {"orient": "right", "title": null, "labels": false, "grid": false, "values": [0.1,0.2,0.3,0.4,0.5,0.6,0.7,0.8,0.9,1], "tickSize": -5}},
            "color": {"field": "s", "type": "nominal", "title": null,
              "scale": {"domain": ["without ALP", "mₙₑᵥ = 50.0, g₁₁ = 100.0", "mₙₑᵥ = 100.0, g₁₁ = 10.0", "mₙₑᵥ = 100.0, g₁₁ = 50.0"], "range": ["#111111", "#169616", "#bdb400", "#ff1616"]},
              "legend": {"legendX": 14, "legendY": 158, "labelExpr": "datum.label + '    '"}},
            "strokeDash": {"field": "s", "type": "nominal", "title": null,
              "scale": {"domain": ["without ALP", "mₙₑᵥ = 50.0, g₁₁ = 100.0", "mₙₑᵥ = 100.0, g₁₁ = 10.0", "mₙₑᵥ = 100.0, g₁₁ = 50.0"], "range": [[8,3,2.5,3],[1,0],[1,0],[1,0]]},
              "legend": {"legendX": 14, "legendY": 158, "labelExpr": "datum.label + '    '"}}
          }
        }
      ],
      "resolve": {"axis": {"x": "independent", "y": "independent"}}
    }
  ],
  "resolve": {"scale": {"color": "independent", "strokeDash": "independent"}, "legend": {"color": "independent", "strokeDash": "independent"}}
}
